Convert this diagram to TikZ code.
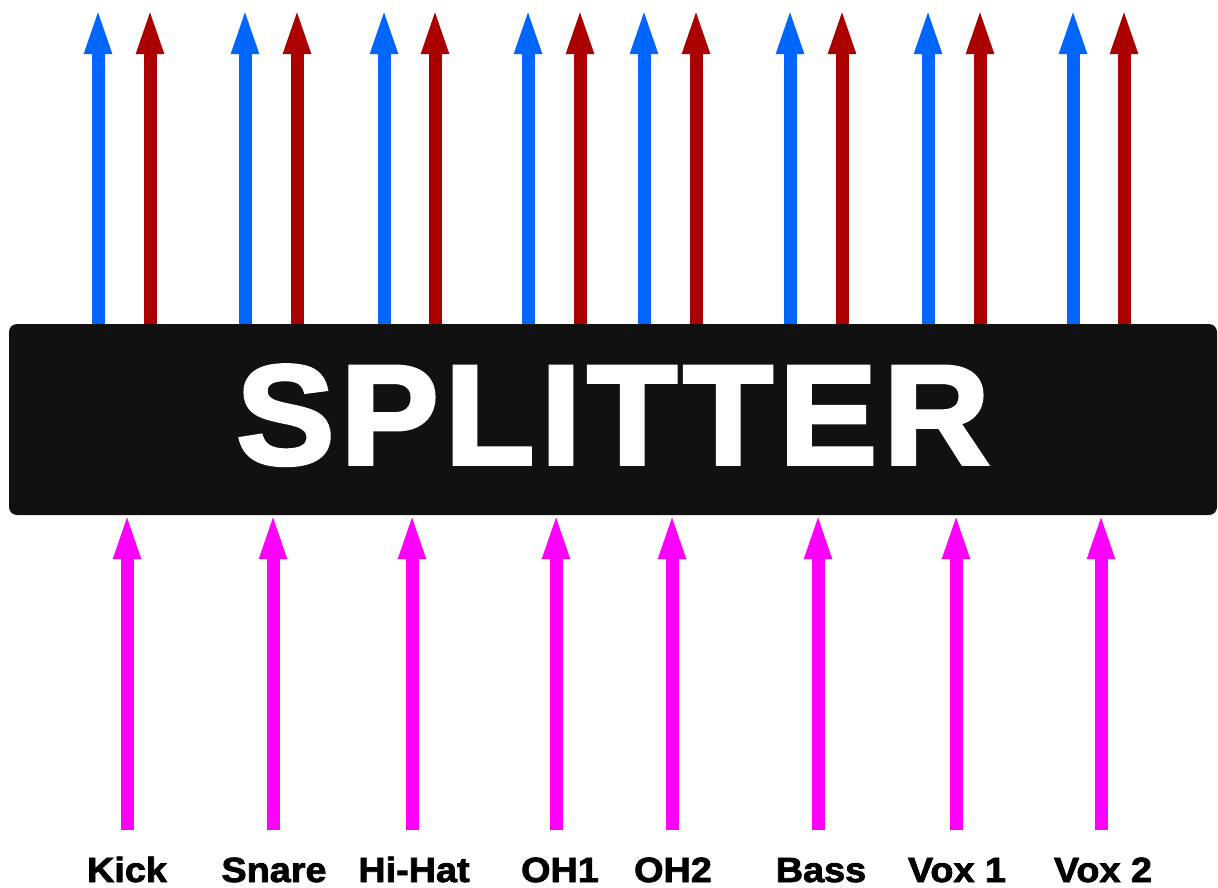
\documentclass[tikz,border=0pt]{standalone}
\usepackage{fontspec}
\usepackage{tikz}
\usetikzlibrary{
  arrows.meta,
  positioning,
  calc
}
\newfontfamily\heavyfont{Liberation Sans}[UprightFont=* Bold, FakeBold=2.5, FakeStretch=1.04, LetterSpace=4]
\newfontfamily\chanfont{Liberation Sans}[UprightFont=* Bold, FakeBold=2.2, FakeStretch=1.08]
\definecolor{spBox}{HTML}{111111}
\definecolor{spBlue}{HTML}{0066FF}
\definecolor{spRed}{HTML}{AA0000}
\definecolor{spIn}{HTML}{FF00FF}
\tikzset{
  splitbox/.style={
    fill=spBox, rounded corners=8pt, minimum width=1208pt, minimum height=191pt,
    text=white, font=\heavyfont\fontsize{142}{142}\selectfont, text depth=10pt, inner sep=0pt
  },
  sig/.style={-{Triangle[length=48pt, width=24pt]}, line width=13pt},
  outblue/.style={sig, spBlue},
  outred/.style={sig, spRed},
  inarrow/.style={sig, spIn},
  chanlabel/.style={font=\chanfont\fontsize{35}{35}\selectfont, anchor=base, inner sep=0pt}
}
\begin{document}
\begin{tikzpicture}[x=1pt, y=-1pt]
  \useasboundingbox (0,0) rectangle (1218,887);
  \node[splitbox] (splitter) at (613,419.5) {SPLITTER};

  % channel names
  \node[chanlabel] (kick)  at (127,882)  {Kick};
  \node[chanlabel] (snare) at (274,882)  {Snare};
  \node[chanlabel] (hihat) at (414,882)  {Hi-Hat};
  \node[chanlabel] (oh1)   at (560,882)  {OH1};
  \node[chanlabel] (oh2)   at (673,882)  {OH2};
  \node[chanlabel] (bass)  at (821,882)  {Bass};
  \node[chanlabel] (vox1)  at (957,882)  {Vox 1};
  \node[chanlabel] (vox2)  at (1103,882) {Vox 2};

  % inputs
  \coordinate (kickIn)  at (127,830);
  \coordinate (snareIn) at (273,830);
  \coordinate (hihatIn) at (412,830);
  \coordinate (oh1In)   at (556,830);
  \coordinate (oh2In)   at (672,830);
  \coordinate (bassIn)  at (818,830);
  \coordinate (vox1In)  at (956,830);
  \coordinate (vox2In)  at (1101,830);
  \draw[inarrow] (kickIn)  -- ([yshift=4pt]kickIn  |- splitter.south);
  \draw[inarrow] (snareIn) -- ([yshift=4pt]snareIn |- splitter.south);
  \draw[inarrow] (hihatIn) -- ([yshift=4pt]hihatIn |- splitter.south);
  \draw[inarrow] (oh1In)   -- ([yshift=4pt]oh1In   |- splitter.south);
  \draw[inarrow] (oh2In)   -- ([yshift=4pt]oh2In   |- splitter.south);
  \draw[inarrow] (bassIn)  -- ([yshift=4pt]bassIn  |- splitter.south);
  \draw[inarrow] (vox1In)  -- ([yshift=4pt]vox1In  |- splitter.south);
  \draw[inarrow] (vox2In)  -- ([yshift=4pt]vox2In  |- splitter.south);

  % outputs: A = blue, B = red
  \coordinate (kickA)  at (98,6);   \coordinate (kickB)  at (150,6);
  \coordinate (snareA) at (245,6);  \coordinate (snareB) at (297,6);
  \coordinate (hihatA) at (384,6);  \coordinate (hihatB) at (435,6);
  \coordinate (oh1A)   at (528,6);  \coordinate (oh1B)   at (580,6);
  \coordinate (oh2A)   at (644,6);  \coordinate (oh2B)   at (696,6);
  \coordinate (bassA)  at (790,6);  \coordinate (bassB)  at (842,6);
  \coordinate (vox1A)  at (928,6);  \coordinate (vox1B)  at (980,6);
  \coordinate (vox2A)  at (1073,6); \coordinate (vox2B)  at (1124,6);
  \draw[outblue] (kickA  |- splitter.north) -- (kickA);
  \draw[outred]  (kickB  |- splitter.north) -- (kickB);
  \draw[outblue] (snareA |- splitter.north) -- (snareA);
  \draw[outred]  (snareB |- splitter.north) -- (snareB);
  \draw[outblue] (hihatA |- splitter.north) -- (hihatA);
  \draw[outred]  (hihatB |- splitter.north) -- (hihatB);
  \draw[outblue] (oh1A   |- splitter.north) -- (oh1A);
  \draw[outred]  (oh1B   |- splitter.north) -- (oh1B);
  \draw[outblue] (oh2A   |- splitter.north) -- (oh2A);
  \draw[outred]  (oh2B   |- splitter.north) -- (oh2B);
  \draw[outblue] (bassA  |- splitter.north) -- (bassA);
  \draw[outred]  (bassB  |- splitter.north) -- (bassB);
  \draw[outblue] (vox1A  |- splitter.north) -- (vox1A);
  \draw[outred]  (vox1B  |- splitter.north) -- (vox1B);
  \draw[outblue] (vox2A  |- splitter.north) -- (vox2A);
  \draw[outred]  (vox2B  |- splitter.north) -- (vox2B);
\end{tikzpicture}
\end{document}
